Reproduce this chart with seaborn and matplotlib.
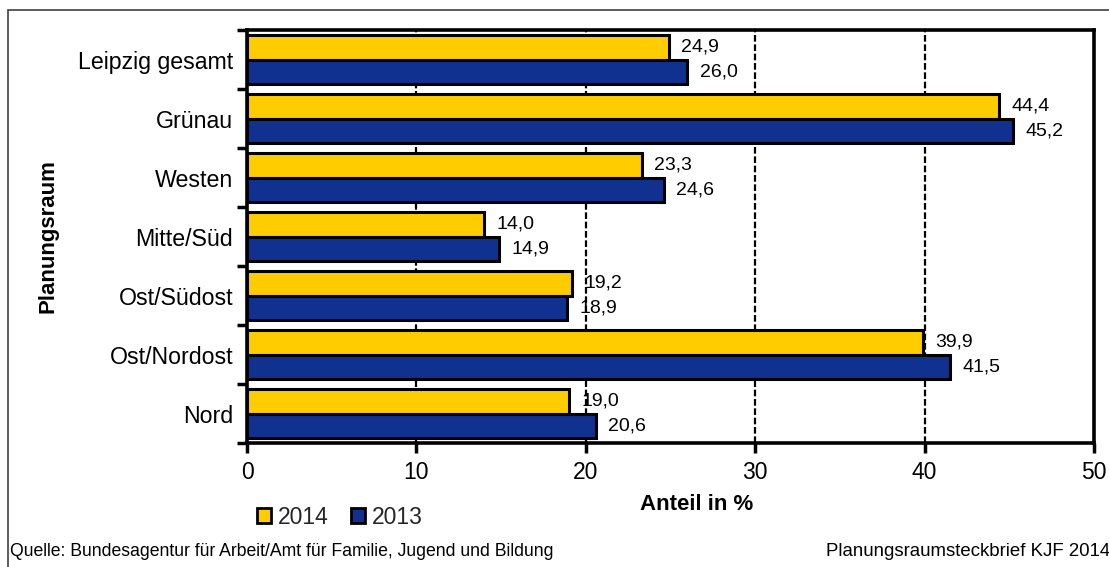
import matplotlib
matplotlib.use("Agg")
import matplotlib.pyplot as plt
import seaborn as sns
import pandas as pd
from matplotlib.patches import Patch, Rectangle
from matplotlib.ticker import FixedLocator

categories = ["Leipzig gesamt", "Grünau", "Westen", "Mitte/Süd", "Ost/Südost", "Ost/Nordost", "Nord"]
years = ["2014", "2013"]
values_2014 = [24.9, 44.4, 23.3, 14.0, 19.2, 39.9, 19.0]
values_2013 = [26.0, 45.2, 24.6, 14.9, 18.9, 41.5, 20.6]
x_ticks = [0, 10, 20, 30, 40, 50]

colors = {"2014": "#FFCC00", "2013": "#10318F"}

df = pd.DataFrame({
    "Planungsraum": categories * 2,
    "Jahr": [years[0]] * len(categories) + [years[1]] * len(categories),
    "Anteil": values_2014 + values_2013,
})

sns.set_theme(style="white")
plt.rcParams["font.family"] = ["Liberation Sans", "DejaVu Sans"]

W, H = 1109, 567
fig = plt.figure(figsize=(W / 100, H / 100), dpi=100)
ax = fig.add_axes([247 / W, 1 - 443 / H, (1094 - 247) / W, (443 - 30) / H])

sns.barplot(data=df, y="Planungsraum", x="Anteil", hue="Jahr", order=categories,
            hue_order=years, palette=colors, saturation=1, orient="h", width=0.84,
            edgecolor="black", linewidth=2.2, legend=False, ax=ax, zorder=3)

ax.set_xlim(0, 50)
ax.set_ylim(len(categories) - 0.5, -0.5)
ax.xaxis.set_major_locator(FixedLocator(x_ticks))
ax.set_xticklabels([str(t) for t in x_ticks], fontsize=16.5)
ax.set_yticks(range(len(categories)))
ax.set_yticklabels(categories, fontsize=16.7)
ax.yaxis.set_minor_locator(FixedLocator([i - 0.5 for i in range(len(categories) + 1)]))
ax.tick_params(axis="y", which="major", length=0, pad=10, colors="black")
ax.tick_params(axis="y", which="minor", length=7, width=2.5, direction="out", left=True, color="black")
ax.tick_params(axis="x", which="major", length=7, width=2.5, direction="out", bottom=True, pad=6, colors="black")

for x in x_ticks[1:-1]:
    ax.axvline(x, color="black", linestyle=(0, (3, 1.2)), linewidth=1.6, zorder=1)

for s in ax.spines.values():
    s.set_visible(True)
    s.set_color("black")
    s.set_linewidth(2.6)

for cont in ax.containers:
    labels = [f"{b.get_width():.1f}".replace(".", ",") for b in cont]
    ax.bar_label(cont, labels=labels, padding=9, fontsize=14, color="black")

ax.set_xlabel("Anteil in %", fontsize=16, fontweight="bold", color="black")
ax.xaxis.set_label_coords((697 - 247) / (1094 - 247), -(505 - 443) / (443 - 30))
ax.xaxis.label.set_va("center")
ax.set_ylabel("Planungsraum", fontsize=16, fontweight="bold", color="black")
ax.yaxis.set_label_coords(-(247 - 48) / (1094 - 247), 0.5)
ax.yaxis.label.set_va("center")

handles = [Patch(facecolor=colors[y], edgecolor="black", linewidth=2, label=y) for y in years]
fig.legend(handles=handles, loc="center left", bbox_to_anchor=(257 / W, 1 - 517 / H),
           ncol=2, frameon=False, fontsize=16.5, handlelength=0.6, handleheight=0.6,
           handletextpad=0.3, columnspacing=1.0, borderpad=0, borderaxespad=0)

fig.text(10 / W, 1 - 551 / H, "Quelle: Bundesagentur für Arbeit/Amt für Familie, Jugend und Bildung",
         fontsize=12.7, va="center", ha="left", color="black")
fig.text(826 / W, 1 - 551 / H, "Planungsraumsteckbrief KJF 2014",
         fontsize=13.4, va="center", ha="left", color="black")

fig.patches.append(Rectangle((8 / W, -0.2), 1.2, 1 - 10 / H + 0.2, transform=fig.transFigure,
                             fill=False, edgecolor="#404040", linewidth=1.2))

fig.savefig("out.png", dpi=100)
